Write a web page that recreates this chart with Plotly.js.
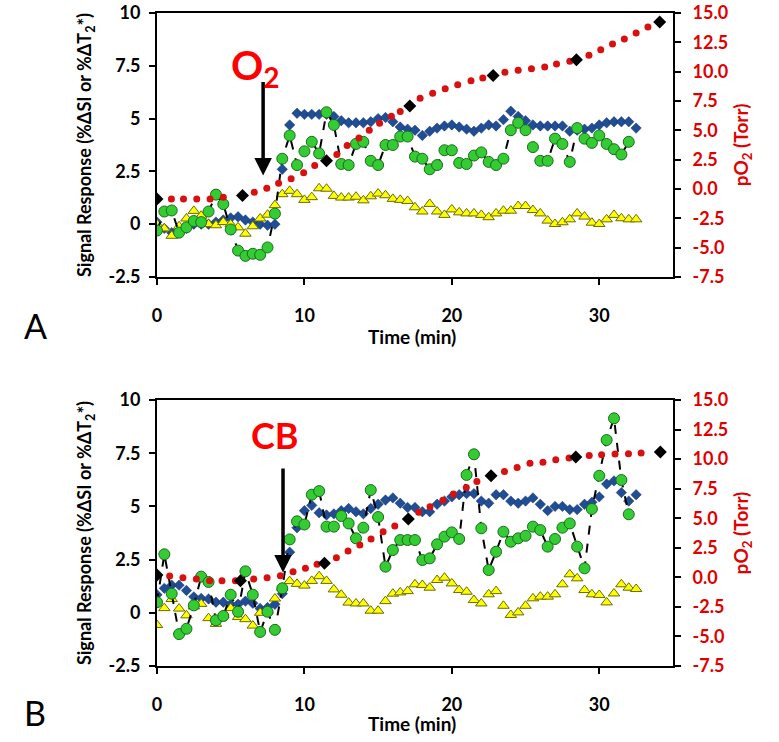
<!DOCTYPE html>
<html>
<head>
<meta charset="utf-8">
<script src="https://cdn.plot.ly/plotly-3.0.1.min.js"></script>
<style>
  html, body { margin: 0; padding: 0; background: #fff; }
  #chart { width: 779px; height: 742px; }
</style>
</head>
<body>
<div id="chart"></div>
<script>
// time axis (min) shared by the MRI signal series
const time = [0, 0.5, 1, 1.5, 2, 2.5, 3, 3.5, 4, 4.5, 5, 5.5, 6, 6.5, 7, 7.5, 8, 8.5, 9, 9.5,
  10, 10.5, 11, 11.5, 12, 12.5, 13, 13.5, 14, 14.5, 15, 15.5, 16, 16.5, 17, 17.5, 18, 18.5, 19, 19.5,
  20, 20.5, 21, 21.5, 22, 22.5, 23, 23.5, 24, 24.5, 25, 25.5, 26, 26.5, 27, 27.5, 28, 28.5, 29, 29.5,
  30, 30.5, 31, 31.5, 32, 32.5];

// ---- panel A (O2) ----
const blueA = [0.1, -0.2, -0.4, -0.3, -0.2, 0.0, 0.0, 0.0, 0.1, 0.2, 0.3, 0.35, 0.2, 0.1, 0.0, -0.05,
  0.0, 2.6, 4.7, 5.25, 5.2, 5.2, 5.2, 5.2, 5.1, 4.9, 4.8, 4.8, 4.8, 4.85, 5.0, 5.05, 4.85, 4.6, 4.5, 4.45,
  4.2, 4.4, 4.55, 4.65, 4.7, 4.6, 4.5, 4.4, 4.55, 4.7, 4.65, 4.95, 5.35, 5.1, 4.9, 4.7, 4.65, 4.65, 4.65,
  4.65, 4.4, 4.45, 4.5, 4.55, 4.7, 4.8, 4.85, 4.85, 4.85, 4.55];
const greenA = [-0.3, 0.6, 0.65, -0.4, -0.15, 0.15, 0.1, 0.6, 1.4, 0.95, -0.25, -1.25, -1.5, -1.4, -1.45,
  -1.1, 0.5, 3.1, 4.2, 2.8, 3.45, 3.9, 3.35, 5.3, 4.7, 2.85, 2.8, 3.8, 3.9, 3.0, 2.8, 3.75, 3.75, 4.15,
  4.15, 3.2, 3.1, 2.6, 2.8, 3.5, 3.5, 2.9, 2.85, 3.25, 3.4, 2.95, 2.8, 3.1, 4.45, 4.8, 4.45, 3.65, 3.0,
  3.0, 4.05, 3.8, 2.95, 4.55, 4.05, 3.85, 4.2, 3.8, 3.55, 3.3, 3.9];
const yellowA = [0.0, -0.2, -0.55, -0.1, 0.27, 0.63, 0.4, 0.0, -0.05, 0.1, 0.0, -0.15, -0.45, -0.1, 0.27,
  0.45, 0.9, 1.42, 1.58, 1.42, 1.15, 1.28, 1.7, 1.68, 1.34, 1.26, 1.26, 1.3, 1.13, 1.32, 1.45, 1.37, 1.2,
  1.15, 1.1, 0.8, 0.6, 0.96, 0.6, 0.44, 0.7, 0.56, 0.51, 0.51, 0.44, 0.33, 0.51, 0.64, 0.64, 0.86, 0.86,
  0.67, 0.51, 0.17, 0.01, 0.09, 0.23, 0.51, 0.36, 0.07, 0.01, 0.23, 0.44, 0.28, 0.23, 0.23];
const po2TimeA = [0.98, 1.8, 2.7, 3.6, 4.5, 6.6, 7.45, 8.25, 9.1, 9.95, 10.7, 12.2, 12.9, 13.7, 14.4,
  15.1, 15.9, 16.5, 17.85, 18.7, 19.55, 20.4, 21.3, 22.1, 23.6, 24.5, 25.4, 26.3, 27.1, 28.0, 29.3, 30.1,
  30.9, 31.7, 32.5, 33.3];
const po2A = [-0.85, -0.85, -0.85, -0.85, -0.7, -0.27, 0.07, 0.5, 0.87, 1.38, 2.0, 2.95, 3.7, 4.35, 5.0,
  5.6, 6.2, 6.6, 7.74, 8.17, 8.54, 8.88, 9.22, 9.45, 9.94, 10.11, 10.25, 10.39, 10.65, 10.88, 11.39, 11.87,
  12.36, 12.78, 13.3, 13.8];
const measTimeA = [0, 5.8, 11.5, 17.15, 22.8, 28.45, 34.1];
const measA = [-0.85, -0.55, 2.4, 7.08, 9.68, 11.02, 14.24];

// ---- panel B (CB) ----
const blueB = [0.85, 1.15, 1.3, 1.3, 1.05, 0.75, 0.68, 0.65, 0.5, 0.5, 0.4, 0.4, 0.55, 0.45, 0.2, 0.25,
  0.4, 0.9, 2.85, 4.0, 4.8, 5.05, 4.7, 4.6, 4.65, 4.8, 4.9, 4.75, 4.65, 4.9, 5.1, 5.3, 5.4, 5.15, 4.95,
  4.95, 4.75, 4.75, 5.1, 5.25, 5.45, 5.55, 5.6, 5.6, 5.25, 5.15, 5.55, 5.55, 5.25, 5.15, 5.25, 5.4, 5.1,
  4.8, 5.0, 5.0, 4.85, 4.85, 5.1, 5.2, 5.45, 6.05, 6.2, 5.65, 5.25, 5.55];
const greenB = [0.5, 2.75, 0.9, -1.0, -0.75, 0.35, 1.7, 1.45, -0.35, -0.15, 0.85, 0.05, 1.95, 0.85, -0.9,
  0.05, -0.8, 1.15, 3.45, 4.3, 4.15, 5.55, 5.72, 4.05, 4.05, 4.55, 4.2, 3.5, 4.0, 5.77, 4.5, 2.17, 2.95,
  3.42, 3.42, 3.42, 2.48, 2.56, 3.22, 3.58, 3.78, 3.47, 6.48, 7.45, 3.97, 2.01, 2.87, 3.81, 3.34, 3.5,
  3.62, 4.05, 3.89, 3.11, 3.47, 4.0, 4.2, 3.11, 2.09, 4.88, 6.44, 8.12, 9.14, 6.24, 4.63];
const yellowB = [-0.57, 0.22, 0.65, 0.2, -0.12, 0.3, 0.42, -0.25, -0.52, -0.1, 0.22, -0.2, -0.3, -0.6,
  0.0, 0.1, 0.67, 1.18, 1.49, 1.36, 1.28, 1.5, 1.72, 1.5, 1.1, 0.85, 0.48, 0.44, 0.44, 0.1, 0.1, 0.55,
  0.9, 0.96, 1.02, 1.34, 1.31, 1.18, 1.54, 1.65, 1.38, 1.07, 0.99, 0.6, 0.44, 0.87, 1.02, 0.33, -0.1,
  0.02, 0.33, 0.68, 0.76, 0.76, 0.87, 1.34, 1.81, 1.62, 1.07, 0.87, 0.84, 0.49, 0.91, 1.34, 1.18, 1.12];
const po2TimeB = [0.86, 1.76, 2.67, 3.57, 4.41, 5.32, 6.56, 7.47, 8.37, 9.23, 10.07, 10.86, 12.17, 12.96,
  13.76, 14.52, 15.34, 16.13, 17.75, 18.52, 19.39, 20.11, 20.98, 21.7, 23.57, 24.43, 25.3, 26.18, 27.05,
  27.95, 29.32, 30.16, 31.07, 31.98, 32.84];
const po2B = [0.11, -0.03, -0.14, -0.28, -0.28, -0.28, -0.14, -0.03, 0.14, 0.48, 0.76, 1.1, 1.66, 2.23,
  2.74, 3.24, 3.86, 4.34, 5.5, 5.97, 6.53, 7.05, 7.59, 8.1, 8.95, 9.29, 9.66, 9.74, 9.94, 10.09, 10.31,
  10.37, 10.43, 10.45, 10.51];
const measTimeB = [0, 5.66, 11.36, 17.05, 22.66, 28.41, 34.14];
const measB = [0.2, -0.28, 1.19, 4.93, 8.6, 10.17, 10.6];

// tick labels
const xTicks = [0, 10, 20, 30];
const leftTicks = [-2.5, 0, 2.5, 5, 7.5, 10];
const leftTickText = ['-2.5', '0', '2.5', '5', '7.5', '10'];
const rightTicks = [-7.5, -5, -2.5, 0, 2.5, 5, 7.5, 10, 12.5, 15];
const rightTickText = ['-7.5', '-5.0', '-2.5', '0.0', '2.5', '5.0', '7.5', '10.0', '12.5', '15.0'];

const RED = '#e00000';
const FONT = 'Lato, "Open Sans", sans-serif';

function panelTraces(xa, ya, ya2, blue, green, yellow, pt, pv, mt, mv) {
  return [
    { x: time, y: blue, xaxis: xa, yaxis: ya, mode: 'markers', type: 'scatter',
      marker: { symbol: 'diamond', size: 8, color: '#1f4e96', line: { width: 0.5, color: '#0e2c5e' } } },
    { x: time, y: yellow, xaxis: xa, yaxis: ya, mode: 'markers', type: 'scatter',
      marker: { symbol: 'triangle-up', size: 10, color: '#ffff00', line: { width: 1, color: '#6b6b00' } } },
    { x: time.slice(0, green.length), y: green, xaxis: xa, yaxis: ya, mode: 'lines+markers', type: 'scatter',
      line: { color: '#000', width: 2, dash: 'dash' },
      marker: { symbol: 'circle', size: 11, color: '#33cc33', line: { width: 1, color: '#1d6b1d' } } },
    { x: pt, y: pv, xaxis: xa, yaxis: ya2, mode: 'markers', type: 'scatter',
      marker: { symbol: 'circle', size: 7, color: '#d81010' } },
    { x: mt, y: mv, xaxis: xa, yaxis: ya2, mode: 'markers', type: 'scatter',
      marker: { symbol: 'diamond', size: 10, color: '#000' } }
  ];
}

const data = [].concat(
  panelTraces('x', 'y', 'y2', blueA, greenA, yellowA, po2TimeA, po2A, measTimeA, measA),
  panelTraces('x2', 'y3', 'y4', blueB, greenB, yellowB, po2TimeB, po2B, measTimeB, measB)
);

const tickFont = { family: FONT, size: 18, color: '#000', weight: 'bold' };
const redTickFont = { family: FONT, size: 18, color: RED, weight: 'bold' };
const xTitleFont = { family: FONT, size: 19, color: '#000', weight: 'bold' };

function xAxis(anchor) {
  return {
    domain: [0.2015, 0.8639], anchor: anchor, range: [0, 35],
    tickvals: xTicks, ticktext: xTicks.map(String),
    ticks: 'outside', ticklen: 6, tickwidth: 2, tickcolor: '#000',
    ticklabelstandoff: 15,
    showline: true, linecolor: '#000', linewidth: 2, mirror: true,
    showgrid: false, zeroline: false, tickfont: tickFont
  };
}
function leftAxis(domain, anchor) {
  return {
    domain: domain, anchor: anchor, range: [-2.5, 10],
    tickvals: leftTicks, ticktext: leftTickText,
    ticks: 'outside', ticklen: 6, tickwidth: 2, tickcolor: '#000',
    ticklabelstandoff: 5,
    showline: true, linecolor: '#000', linewidth: 2,
    showgrid: false, zeroline: false, tickfont: tickFont,
    title: { text: 'Signal Response (%ΔSI or %ΔT<sub>2</sub>*)',
             font: { family: FONT, size: 18, color: '#000', weight: 'bold' }, standoff: 12 }
  };
}
function rightAxis(over, anchor) {
  return {
    overlaying: over, anchor: anchor, side: 'right', range: [-7.5, 15],
    tickvals: rightTicks, ticktext: rightTickText,
    ticks: 'outside', ticklen: 6, tickwidth: 2, tickcolor: '#000',
    ticklabelstandoff: 8,
    showline: true, linecolor: '#000', linewidth: 2,
    showgrid: false, zeroline: false, tickfont: redTickFont,
    title: { text: 'pO<sub>2</sub> (Torr)', font: { family: FONT, size: 19, color: RED, weight: 'bold' }, standoff: 8 }
  };
}

const arrowStyle = { showarrow: true, arrowhead: 2, arrowsize: 1, arrowwidth: 3.5, arrowcolor: '#000', text: '' };

const layout = {
  width: 779, height: 742,
  margin: { l: 0, r: 0, t: 0, b: 0 },
  paper_bgcolor: '#fff', plot_bgcolor: '#fff',
  showlegend: false,
  xaxis: xAxis('y'),
  yaxis: leftAxis([0.6267, 0.9825], 'x'),
  yaxis2: rightAxis('y', 'x'),
  xaxis2: xAxis('y3'),
  yaxis3: leftAxis([0.1024, 0.4609], 'x2'),
  yaxis4: rightAxis('y3', 'x2'),
  annotations: [
    Object.assign({ xref: 'x', yref: 'y', x: 7.2, y: 2.3, axref: 'x', ayref: 'y', ax: 7.2, ay: 6.8 }, arrowStyle),
    Object.assign({ xref: 'x2', yref: 'y3', x: 8.55, y: 1.9, axref: 'x2', ayref: 'y3', ax: 8.55, ay: 6.85 }, arrowStyle),
    { xref: 'x', yref: 'y', x: 6.7, y: 7.4, text: 'O<sub>2</sub>', showarrow: false,
      font: { family: FONT, size: 40, color: '#ff0000', weight: 'bold' } },
    { xref: 'x2', yref: 'y3', x: 8.0, y: 8.35, text: 'CB', showarrow: false,
      font: { family: FONT, size: 36, color: '#ff0000', weight: 'bold' } },
    // x-axis titles
    { xref: 'paper', yref: 'paper', x: 0.529, y: 0.547, yanchor: 'middle', text: 'Time (min)',
      showarrow: false, font: xTitleFont },
    { xref: 'paper', yref: 'paper', x: 0.529, y: 0.0256, yanchor: 'middle', text: 'Time (min)',
      showarrow: false, font: xTitleFont },
    // panel letters
    { xref: 'paper', yref: 'paper', x: 0.028, y: 0.561, yanchor: 'middle', text: 'A', showarrow: false,
      font: { family: FONT, size: 34, color: '#000' } },
    { xref: 'paper', yref: 'paper', x: 0.028, y: 0.040, yanchor: 'middle', text: 'B', showarrow: false,
      font: { family: FONT, size: 34, color: '#000' } }
  ]
};

Plotly.newPlot('chart', data, layout, { displayModeBar: false, staticPlot: true });
</script>
</body>
</html>
